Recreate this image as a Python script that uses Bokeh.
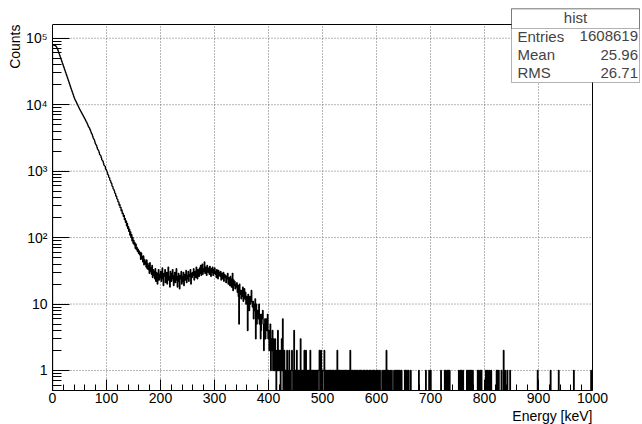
import numpy as np
from bokeh.plotting import figure
from bokeh.models import Range1d, FixedTicker, Label, BoxAnnotation, Title
from bokeh.embed import file_html
from bokeh.resources import INLINE

# ---------------- data (1 keV bins, 0 - 1000 keV) ----------------
bin_width_kev = 1
n_bins = 1000

counts_000_099 = [
    78400, 79100, 78900, 78200, 77800, 77100, 75900, 74000, 71200, 68100,
    64900, 61500, 58200, 55100, 52300, 49600, 46900, 44500, 42200, 40000,
    37900, 35900, 34000, 32200, 30400, 28800, 27300, 25800, 24400, 23100,
    21900, 20700, 19600, 18500, 17500, 16600, 15700, 14900, 14100, 13300,
    12600, 12100, 11650, 11200, 10800, 10350, 9960, 9570, 9210, 8850,
    8510, 8230, 7940, 7680, 7410, 7160, 6920, 6690, 6460, 6240,
    6030, 5760, 5570, 5410, 5150, 4950, 4710, 4580, 4460, 4230,
    4070, 3840, 3690, 3560, 3350, 3150, 3040, 2950, 2760, 2590,
    2510, 2430, 2290, 2150, 2090, 2030, 1910, 1780, 1740, 1700,
    1590, 1480, 1450, 1410, 1320, 1230, 1200, 1180, 1070, 1050]

counts_100_199 = [
    1006, 961, 897, 871, 808, 792, 731, 715, 669, 652,
    598, 589, 541, 533, 509, 468, 462, 421, 419, 384,
    377, 345, 344, 309, 316, 282, 285, 252, 261, 229,
    234, 208, 216, 186, 194, 169, 178, 150, 163, 137,
    146, 124, 134, 109, 122, 100, 111, 89, 101, 82,
    91, 78, 84, 69, 80, 66, 71, 62, 67, 58,
    63, 55, 60, 47, 59, 48, 52, 43, 53, 39,
    47, 40, 44, 36, 46, 34, 41, 33, 38, 29,
    42, 31, 35, 28, 38, 25, 33, 27, 31, 24,
    34, 22, 30, 26, 20, 29, 33, 23, 28, 25]

counts_200_299 = [
    31, 22, 27, 35, 24, 19, 29, 26, 33, 21,
    25, 30, 20, 28, 36, 23, 26, 18, 31, 27,
    22, 29, 33, 24, 19, 27, 30, 21, 25, 34,
    23, 18, 26, 29, 22, 17, 27, 24, 31, 20,
    26, 22, 30, 19, 25, 28, 23, 32, 21, 27,
    24, 31, 22, 28, 26, 33, 20, 29, 25, 30,
    27, 34, 23, 29, 31, 25, 36, 28, 24, 33,
    30, 26, 35, 29, 38, 27, 32, 40, 28, 34,
    31, 43, 29, 36, 32, 27, 38, 33, 30, 35,
    28, 37, 32, 26, 34, 30, 36, 27, 33, 29]

counts_300_399 = [
    35, 28, 31, 25, 33, 29, 24, 32, 27, 30,
    26, 31, 23, 29, 27, 24, 30, 22, 28, 25,
    27, 21, 26, 24, 29, 20, 25, 23, 19, 26,
    22, 18, 24, 29, 16, 23, 19, 22, 17, 20,
    18, 21, 15, 19, 13, 5, 20, 14, 16, 12,
    16, 13, 18, 11, 14, 17, 12, 15, 10, 13,
    12, 4, 14, 11, 8, 13, 10, 12, 16, 11,
    9, 11, 6, 10, 8, 12, 3, 10, 5, 8,
    8, 6, 10, 5, 7, 3, 4, 7, 6, 8,
    5, 2, 4, 6, 3, 6, 5, 4, 7, 3]

counts_400_499 = [
    4, 2, 3, 5, 1, 3, 2, 4, 1, 3,
    2, 1, 3, 2, 0, 2, 1, 4, 1, 2,
    1, 2, 0, 1, 3, 1, 6, 0, 1, 2,
    0, 1, 1, 0, 2, 1, 0, 1, 2, 0,
    1, 0, 1, 2, 1, 0, 1, 4, 0, 1,
    1, 0, 2, 1, 0, 1, 1, 0, 1, 3,
    0, 1, 0, 1, 1, 0, 2, 1, 0, 2,
    1, 0, 1, 1, 0, 1, 0, 2, 1, 0,
    1, 1, 0, 1, 0, 1, 1, 0, 1, 0,
    1, 0, 1, 1, 2, 0, 1, 2, 0, 1]

counts_500_599 = [
    0, 1, 1, 2, 0, 1, 0, 1, 1, 0,
    1, 0, 1, 0, 1, 1, 0, 1, 0, 1,
    1, 0, 0, 1, 1, 0, 1, 2, 0, 1,
    0, 1, 1, 0, 1, 0, 0, 1, 0, 1,
    1, 0, 1, 1, 0, 1, 0, 0, 1, 0,
    1, 2, 0, 1, 0, 1, 1, 0, 0, 1,
    0, 1, 0, 1, 1, 0, 0, 1, 0, 1,
    1, 0, 1, 0, 0, 1, 0, 1, 1, 0,
    0, 1, 0, 1, 0, 0, 1, 1, 0, 1,
    0, 0, 1, 0, 1, 0, 1, 0, 0, 1]

counts_600_699 = [
    0, 1, 0, 0, 1, 0, 1, 0, 0, 0,
    1, 0, 0, 1, 0, 1, 0, 1, 2, 0,
    1, 0, 1, 0, 0, 1, 0, 0, 1, 0,
    0, 0, 1, 0, 0, 1, 0, 1, 0, 1,
    0, 1, 0, 1, 0, 0, 1, 0, 0, 0,
    0, 0, 1, 0, 1, 0, 1, 0, 0, 1,
    0, 0, 0, 1, 0, 0, 0, 0, 0, 0,
    0, 0, 0, 0, 0, 0, 0, 0, 1, 0,
    0, 0, 0, 0, 0, 0, 0, 0, 0, 0,
    0, 1, 0, 0, 0, 0, 0, 1, 0, 0]

# sparse tail above 700 keV: bin (keV) and its count
tail_energy_kev = [700, 719, 726, 728, 731, 733, 735, 752, 755, 757, 760,
                   767, 769, 771, 773, 775, 778, 787, 789, 792, 794, 802,
                   804, 806, 809, 812, 822, 824, 826, 831, 835, 838, 842,
                   847, 898, 922, 937, 965, 997]
tail_counts = [1, 1, 1, 1, 1, 1, 1, 1, 1, 1, 1,
               1, 1, 1, 1, 1, 1, 1, 1, 1, 1, 1,
               1, 1, 1, 1, 1, 1, 1, 1, 2, 1, 1,
               1, 1, 1, 1, 1, 1]

x_major_ticks = [0, 100, 200, 300, 400, 500, 600, 700, 800, 900, 1000]
y_major_ticks = [1, 10, 100, 1000, 10000, 100000]
y_tick_labels = ["1", "10", "10\u00b2", "10\u00b3", "10\u2074", "10\u2075"]

stats_title = "hist"
stats_names = ["Entries", "Mean", "RMS"]
stats_values = ["1608619", "25.96", "26.71"]

x_title = "Energy [keV]"
y_title = "Counts"

# axis limits of the histogram frame
x_min, x_max = 0, 1000
y_min, y_max = 0.5, 1.61e5

# ---------------- layout (pixels) ----------------
W, H = 642, 424
frame_left, frame_bottom = 52, 390          # where the ROOT axes sit
hist_w, hist_h = 540, 366                   # size of the ROOT frame
# Bokeh frame extends to the top/right canvas edges so the stats box fits
bk_w, bk_h = W - frame_left, frame_bottom
x_end = x_min + (x_max - x_min) * bk_w / hist_w
y_end = 10 ** (np.log10(y_min) + (np.log10(y_max) - np.log10(y_min)) * bk_h / hist_h)

# ---------------- assemble histogram ----------------
counts = np.zeros(n_bins)
segments = [counts_000_099, counts_100_199, counts_200_299, counts_300_399,
            counts_400_499, counts_500_599, counts_600_699]
for i, seg in enumerate(segments):
    counts[i * 100:(i + 1) * 100] = seg
for e, c in zip(tail_energy_kev, tail_counts):
    counts[e] = c

edges = x_min + np.arange(n_bins + 1) * bin_width_kev
floor_val = 0.05  # empty bins drop below the frame (ROOT log style)
shown = np.where(counts > 0, counts, floor_val)
xs = np.concatenate([[edges[0]], np.repeat(edges, 2)[1:-1]])
ys = np.concatenate([[floor_val], np.repeat(shown, 2)])

FONT = "Liberation Sans"

p = figure(width=W, height=H, output_backend="svg", toolbar_location=None,
           x_range=Range1d(x_min, x_end), y_range=Range1d(y_min, y_end),
           y_axis_type="log",
           min_border_left=frame_left, min_border_right=0,
           min_border_top=0, min_border_bottom=H - frame_bottom)
p.background_fill_color = "white"
p.border_fill_color = "white"
p.outline_line_color = None
p.xgrid.visible = False
p.ygrid.visible = False

# grid (dotted), drawn only inside the histogram frame
gx = [t for t in x_major_ticks if x_min < t < x_max]
gy = [t for t in y_major_ticks if y_min < t < y_max]
p.segment(x0=gx, y0=[y_min] * len(gx), x1=gx, y1=[y_max] * len(gx),
          line_color="#6f6f6f", line_width=1, line_dash="1 2", level="underlay")
p.segment(x0=[x_min] * len(gy), y0=gy, x1=[x_max] * len(gy), y1=gy,
          line_color="#6f6f6f", line_width=1, line_dash="1 2", level="underlay")

# histogram
p.line(xs, ys, line_color="black", line_width=1.3)

# top and right edges of the frame
p.segment(x0=[x_min, x_max], y0=[y_max, y_min], x1=[x_max, x_max], y1=[y_max, y_max],
          line_color="black", line_width=1)

# axes
x_minor = list(range(x_min, x_max + 1, 20))
y_minor = [m * 10.0 ** k for k in range(-1, 6) for m in range(2, 10)
           if y_min <= m * 10.0 ** k <= y_max]
p.xaxis.ticker = FixedTicker(ticks=x_major_ticks, minor_ticks=x_minor)
p.yaxis.ticker = FixedTicker(ticks=y_major_ticks, minor_ticks=y_minor)
p.yaxis.major_label_overrides = {t: l for t, l in zip(y_major_ticks, y_tick_labels)}
p.xaxis.bounds = (x_min, x_max)
p.yaxis.bounds = (y_min, y_max)

for ax in (p.xaxis[0], p.yaxis[0]):
    ax.axis_line_color = "black"
    ax.major_tick_line_color = "black"
    ax.minor_tick_line_color = "black"
    ax.major_tick_out = 0
    ax.minor_tick_out = 0
    ax.major_label_text_font = FONT
    ax.major_label_text_font_size = "14px"
    ax.major_label_text_color = "black"
p.xaxis.major_tick_in = 11
p.xaxis.minor_tick_in = 6
p.xaxis.major_label_standoff = 2
p.yaxis.major_tick_in = 17
p.yaxis.minor_tick_in = 9
p.yaxis.major_label_standoff = 5

# axis titles (ROOT style: at the far ends of the axes)
p.add_layout(Title(text=x_title, align="right", offset=bk_w - hist_w, standoff=0,
                   text_font=FONT, text_font_size="14px", text_font_style="normal",
                   text_color="black"), "below")
p.add_layout(Title(text=y_title, align="right", offset=bk_h - hist_h, standoff=0,
                   text_font=FONT, text_font_size="14px", text_font_style="normal",
                   text_color="black"), "left")

# stats box (screen units, relative to the Bokeh frame's bottom-left corner)
box_l, box_r, box_t, box_b, sep = 459, 587, 381.7, 308, 362
p.add_layout(BoxAnnotation(left=box_l, right=box_r, top=box_t, bottom=box_b,
                           left_units="screen", right_units="screen",
                           top_units="screen", bottom_units="screen",
                           fill_color="white", fill_alpha=1.0,
                           line_color="black", line_width=1, level="overlay"))
p.add_layout(BoxAnnotation(left=box_l, right=box_r, top=box_t, bottom=sep,
                           left_units="screen", right_units="screen",
                           top_units="screen", bottom_units="screen",
                           fill_alpha=0.0, line_color="black", line_width=1,
                           level="overlay"))
shift = 6
p.add_layout(Label(x=(box_l + box_r) / 2, y=366.7 + shift, x_units="screen", y_units="screen",
                   text=stats_title, text_font=FONT, text_font_size="15px",
                   text_align="center", text_baseline="alphabetic", level="overlay"))
row_y = [348.3, 330.0, 311.7]
for name, val, yy in zip(stats_names, stats_values, row_y):
    p.add_layout(Label(x=box_l + 6, y=yy + shift, x_units="screen", y_units="screen",
                       text=name, text_font=FONT, text_font_size="15px",
                       text_align="left", text_baseline="alphabetic", level="overlay"))
    p.add_layout(Label(x=box_r - 1.5, y=yy + shift, x_units="screen", y_units="screen",
                       text=val, text_font=FONT, text_font_size="15px",
                       text_align="right", text_baseline="alphabetic", level="overlay"))

open("out.html", "w").write(file_html(p, INLINE))
